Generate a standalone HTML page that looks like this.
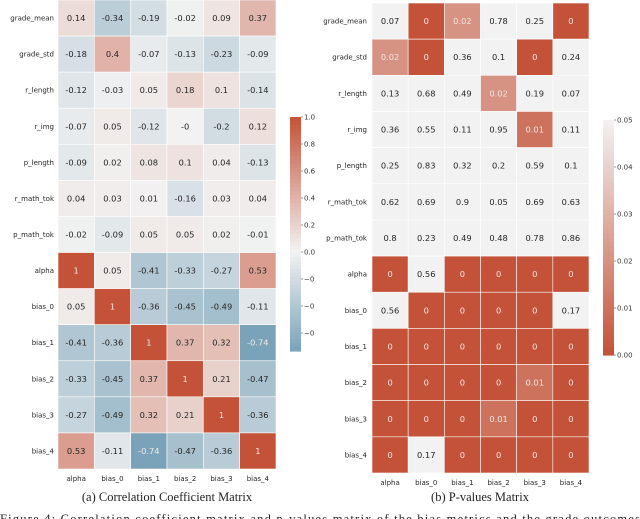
<!DOCTYPE html>
<html><head><meta charset="utf-8"><style>
html,body{margin:0;padding:0;background:#fff;width:640px;height:519px;overflow:hidden;}
svg{display:block;font-family:"DejaVu Sans","Liberation Sans",sans-serif;}
.cap{font-family:"Liberation Serif",serif;font-size:12.5px;fill:#222;}
</style></head><body>
<svg id="svg" width="640" height="519" viewBox="0 0 640 519">
<text x="167" y="501" text-anchor="middle" class="cap">(a) Correlation Coefficient Matrix</text>
<text x="480" y="501" text-anchor="middle" class="cap">(b) P-values Matrix</text>
<text x="0" y="523" class="cap" textLength="640" lengthAdjust="spacing">Figure 4: Correlation coefficient matrix and p-values matrix of the bias metrics and the grade outcomes</text>
</svg>
<script>
const rowLabels=["grade_mean","grade_std","r_length","r_img","p_length","r_math_tok","p_math_tok","alpha","bias_0","bias_1","bias_2","bias_3","bias_4"];
const colLabels=["alpha","bias_0","bias_1","bias_2","bias_3","bias_4"];
const corrValues=[
[0.14,-0.34,-0.19,-0.02,0.09,0.37],
[-0.18,0.4,-0.07,-0.13,-0.23,-0.09],
[-0.12,-0.03,0.05,0.18,0.1,-0.14],
[-0.07,0.05,-0.12,-0,-0.2,0.12],
[-0.09,0.02,0.08,0.1,0.04,-0.13],
[0.04,0.03,0.01,-0.16,0.03,0.04],
[-0.02,-0.09,0.05,0.05,0.02,-0.01],
[1,0.05,-0.41,-0.33,-0.27,0.53],
[0.05,1,-0.36,-0.45,-0.49,-0.11],
[-0.41,-0.36,1,0.37,0.32,-0.74],
[-0.33,-0.45,0.37,1,0.21,-0.47],
[-0.27,-0.49,0.32,0.21,1,-0.36],
[0.53,-0.11,-0.74,-0.47,-0.36,1]];
const pValues=[
[0.07,0,0.02,0.78,0.25,0],
[0.02,0,0.36,0.1,0,0.24],
[0.13,0.68,0.49,0.02,0.19,0.07],
[0.36,0.55,0.11,0.95,0.01,0.11],
[0.25,0.83,0.32,0.2,0.59,0.1],
[0.62,0.69,0.9,0.05,0.69,0.63],
[0.8,0.23,0.49,0.48,0.78,0.86],
[0,0.56,0,0,0,0],
[0.56,0,0,0,0,0.17],
[0,0,0,0,0,0],
[0,0,0,0,0.01,0],
[0,0,0,0.01,0,0],
[0,0.17,0,0,0,0]];
const corrTicks=[1.0,0.8,0.6,0.4,0.2,0.0,-0.2,-0.4,-0.6];
const pTicks=[0.05,0.04,0.03,0.02,0.01,0.00];

const NS="http://www.w3.org/2000/svg";
const svg=document.getElementById('svg');
function mk(t,a,p){const e=document.createElementNS(NS,t);for(const k in a)e.setAttribute(k,a[k]);(p||svg).appendChild(e);return e;}
const RED=[196,82,56],MID=[242,242,242],BLUE=[80,135,165];
function mix(a,b,t){return 'rgb('+a.map((v,i)=>Math.round(v+(b[i]-v)*t)).join(',')+')';}
function corrColor(v){return v>=0?mix(MID,RED,Math.min(1,v)):mix(MID,BLUE,Math.min(1,-v));}
function pColor(v){const t=Math.min(1,Math.max(0,v/0.05));return mix(RED,MID,t);}
function fmt(v){return Object.is(v,-0)?"-0":String(v);}

function heatmap(name,x0,y0,w,h,vals,colorFn,lightFn,rowLabelX){
  const g=mk('g',{});
  
  
  const cw=w/colLabels.length, ch=h/rowLabels.length;
  const xs=j=>x0+j*cw, ys=i=>y0+i*ch;
  vals.forEach((row,i)=>row.forEach((v,j)=>{
    const r=mk('rect',{x:xs(j),y:ys(i),width:cw,height:ch,fill:colorFn(v),stroke:'#fff','stroke-width':0.6},g);
    
    
    const t=mk('text',{x:xs(j)+cw/2,y:ys(i)+ch/2+3,'text-anchor':'middle','font-size':8.3,fill:lightFn(v)?'#f4e8e4':'#262626'},g);
    t.textContent=fmt(v);
    
    
  }));
  rowLabels.forEach((l,i)=>{
    const t=mk('text',{x:rowLabelX,y:ys(i)+ch/2+2.5,'text-anchor':'end','font-size':7,fill:'#262626'},g);
    t.textContent=l;
    
    
  });
  colLabels.forEach((l,j)=>{
    const t=mk('text',{x:xs(j)+cw/2,y:y0+h+12,'text-anchor':'middle','font-size':7,fill:'#262626'},g);
    t.textContent=l;
    
    
  });
}
heatmap('correlation-heatmap',58,0,218,469,corrValues,corrColor,v=>v>0.7||v<-0.6,54);
heatmap('pvalue-heatmap',372,3,217,470,pValues,pColor,v=>v<0.025,367);

function colorbar(name,x,top,bot,vTop,vBot,colorFn,ticks,yOfTick,digits){
  const g=mk('g',{});
  
  
  const n=60;
  for(let k=0;k<n;k++){
    const v=vTop+(vBot-vTop)*(k+0.5)/n;
    mk('rect',{x:x,y:top+(bot-top)*k/n,width:11,height:(bot-top)/n+0.6,fill:colorFn(v)},g);
  }
  ticks.forEach(tv=>{
    const y=yOfTick(tv);
    if(y<top-1||y>bot+1)return;
    mk('line',{x1:x+11,x2:x+13,y1:y,y2:y,stroke:'#555','stroke-width':0.6},g);
    const t=mk('text',{x:x+14,y:y+2.5,'font-size':7,fill:'#333'},g);
    t.textContent=tv<0?'\u22120':tv.toFixed(digits);
    
    
  });
}
const cZero=252,cStep=135;
colorbar('correlation-colorbar',290,117,351,1,-0.74,corrColor,corrTicks,v=>cZero-v*cStep,1);
colorbar('pvalue-colorbar',603,120,355,0.05,0,pColor,pTicks,v=>355-(v/0.05)*235,2);
</script>
</body></html>
